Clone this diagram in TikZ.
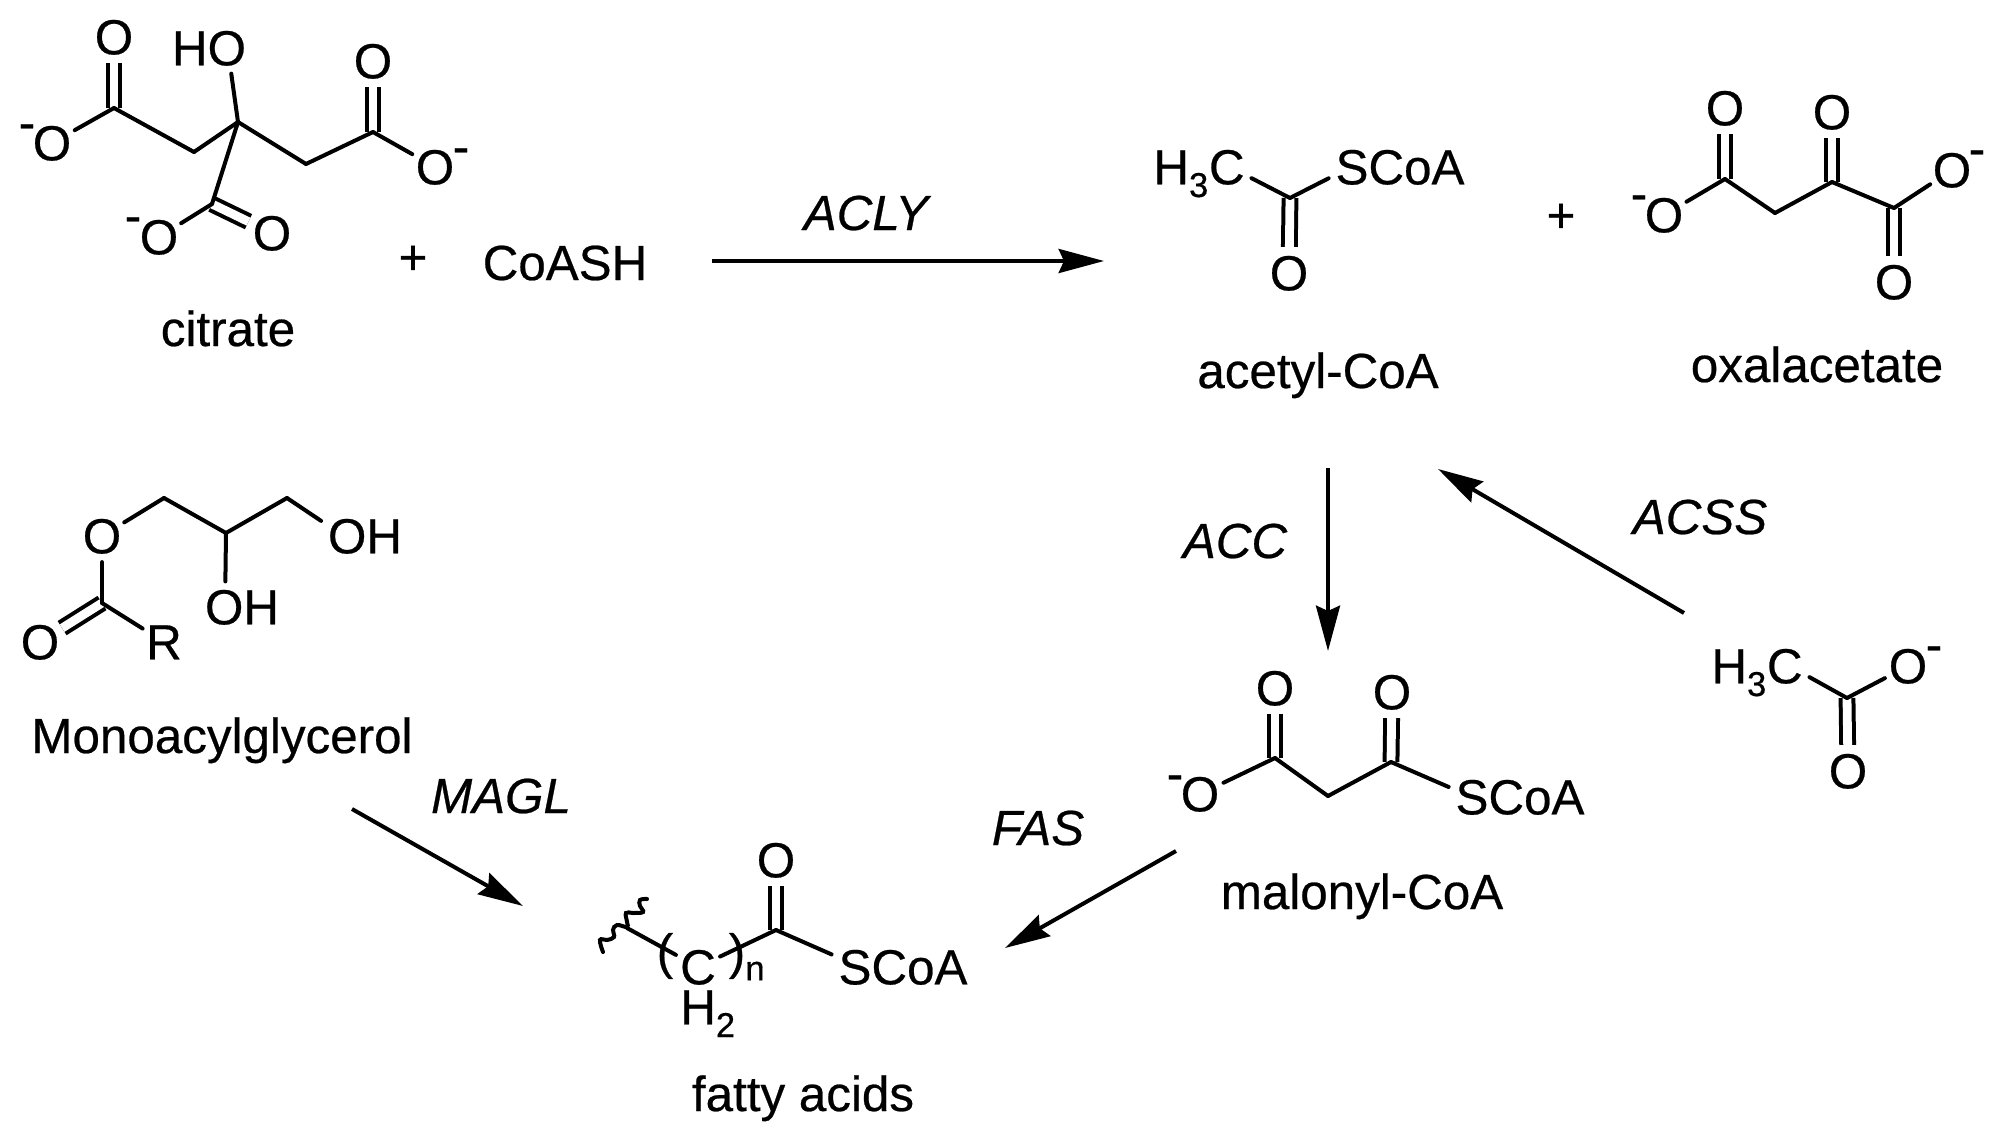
\documentclass[tikz,border=0pt]{standalone}
\usepackage{fontspec}
\setmainfont{Liberation Sans}[FakeBold=0.5]
\usetikzlibrary{arrows.meta}

\tikzset{
  bond/.style={line width=3pt,line cap=round},
  dbond/.style={line width=3pt,double,double distance=6.6pt},
  rxn/.style={line width=3pt,-{Stealth[length=34pt,width=18pt,inset=4pt]}},
  atom/.style={font=\fontsize{37}{40}\selectfont,text height=26pt,text depth=0pt,inner xsep=5pt,inner ysep=6pt},
  oxy/.style={atom,circle,inner sep=0pt,minimum size=37.5pt},
  chg/.style={font=\fontsize{37}{40}\selectfont,inner sep=0pt},
  small/.style={font=\fontsize{26}{30}\selectfont,inner sep=0pt},
  lbl/.style={font=\fontsize{37}{40}\selectfont,anchor=base,inner sep=0pt},
  enz/.style={lbl,font=\fontsize{37}{40}\selectfont\itshape}
}

\begin{document}
\begin{tikzpicture}[x=0.75pt,y=0.75pt,yscale=-1,xscale=1]
\useasboundingbox (0,0) rectangle (1995,1128);

% Vertices
\draw (114,108) coordinate (cita) ;
\draw (194,152) coordinate (citb) ;
\draw (238,122) coordinate (citc) ;
\draw (306,164) coordinate (citd) ;
\draw (373,132) coordinate (cite) ;
\draw (212,204) coordinate (citf) ;
\draw (1290,198) coordinate (aca) ;
\draw (1725,179) coordinate (oxa) ;
\draw (1775,213) coordinate (oxb) ;
\draw (1832,182) coordinate (oxc) ;
\draw (1894,208) coordinate (oxd) ;
\draw (102,603) coordinate (maga) ;
\draw (164,498) coordinate (magb) ;
\draw (226,533) coordinate (magc) ;
\draw (287,498) coordinate (magd) ;
\draw (1275,758) coordinate (mala) ;
\draw (1328,796) coordinate (malb) ;
\draw (1391,762) coordinate (malc) ;
\draw (1847,698) coordinate (acta) ;
\draw (776,930) coordinate (fata) ;
\draw (627,928) coordinate (fatb) ;

% Text Node
\draw (114,37) node (citoa) [oxy] {O};
\draw (52,143) node (citob) [oxy] {O};
\draw (27,132) node (chga) [chg] {-};
\draw (209,48) node (citho) [atom] {HO};
\draw (373,61) node (citoc) [oxy] {O};
\draw (435,167) node (citod) [oxy] {O};
\draw (461,156) node (chgb) [chg] {-};
\draw (159,237) node (citoe) [oxy] {O};
\draw (133,225) node (chgc) [chg] {-};
\draw (272,233) node (citof) [oxy] {O};
\draw (413,260) node (plusa) [chg] {+};
\draw (228,346) node (citname) [lbl] {citrate};
\draw (565,280) node (coash) [lbl] {CoASH};
% Text Node
\draw (1199,167) node (ach) [atom] {H\textsubscript{3}C};
\draw (1400,167) node (acs) [atom] {SCoA};
\draw (1289,273) node (aco) [oxy] {O};
\draw (1318,388) node (acname) [lbl] {acetyl-CoA};
\draw (1561,218) node (plusb) [chg] {+};
% Text Node
\draw (1664,215) node (oxoa) [oxy] {O};
\draw (1639,203) node (chgd) [chg] {-};
\draw (1725,108) node (oxob) [oxy] {O};
\draw (1832,112) node (oxoc) [oxy] {O};
\draw (1952,170) node (oxod) [oxy] {O};
\draw (1977,158) node (chge) [chg] {-};
\draw (1894,282) node (oxoe) [oxy] {O};
\draw (1817,382) node (oxname) [lbl] {oxalacetate};
% Text Node
\draw (102,536) node (magoa) [oxy] {O};
\draw (40,642) node (magob) [oxy] {O};
\draw (164,642) node (magr) [oxy] {R};
\draw (242,607) node (magoh) [atom] {OH};
\draw (365,536) node (magohb) [atom] {OH};
\draw (222,753) node (magname) [lbl] {Monoacylglycerol};
% Text Node
\draw (1200,794) node (maloa) [oxy] {O};
\draw (1175,783) node (chgf) [chg] {-};
\draw (1275,688) node (malob) [oxy] {O};
\draw (1392,692) node (maloc) [oxy] {O};
\draw (1520,797) node (mals) [atom] {SCoA};
\draw (1362,909) node (malname) [lbl] {malonyl-CoA};
% Text Node
\draw (1757,666) node (acth) [atom] {H\textsubscript{3}C};
\draw (1908,666) node (actoa) [oxy] {O};
\draw (1934,654) node (chgg) [chg] {-};
\draw (1848,771) node (actob) [oxy] {O};
% Text Node
\draw (776,860) node (fato) [oxy] {O};
\draw (698,967) node (fatc) [atom,inner xsep=3pt,inner ysep=0pt] {C};
\draw (665,956) node (fatpa) [chg] {(};
\draw (737,956) node (fatpb) [chg] {)};
\draw (755,971) node (fatn) [small] {n};
\draw (680,1007) node (fath) [atom,anchor=west,inner sep=0pt] {H\textsubscript{2}};
\draw (903,967) node (fats) [atom] {SCoA};
\draw (803,1111) node (fatname) [lbl] {fatty acids};
% Text Node
\draw (866,230) node (acly) [enz] {ACLY};
\draw (1235,558) node (acc) [enz] {ACC};
\draw (1700,534) node (acss) [enz] {ACSS};
\draw (501,813) node (magl) [enz] {MAGL};
\draw (1038,845) node (fas) [enz] {FAS};

%Straight Lines
\draw [dbond] (cita) -- (citoa) ;
\draw [dbond] (cite) -- (citoc) ;
\draw [dbond] (citf) -- (citof) ;
\draw [dbond] (aca) -- (aco) ;
\draw [dbond] (oxa) -- (oxob) ;
\draw [dbond] (oxc) -- (oxoc) ;
\draw [dbond] (oxd) -- (oxoe) ;
\draw [dbond] (maga) -- (magob) ;
\draw [dbond] (mala) -- (malob) ;
\draw [dbond] (malc) -- (maloc) ;
\draw [dbond] (acta) -- (actob) ;
\draw [dbond] (fata) -- (fato) ;
%Straight Lines
\draw [bond] (citob) -- (cita) ;
\draw [bond] (cita) -- (citb) ;
\draw [bond] (citb) -- (citc) ;
\draw [bond] (citc) -- (citho.-49) ;
\draw [bond] (citc) -- (citd) ;
\draw [bond] (citd) -- (cite) ;
\draw [bond] (cite) -- (citod) ;
\draw [bond] (citc) -- (citf) ;
\draw [bond] (citf) -- (citoe) ;
%Straight Lines
\draw [bond] (ach.-12) -- (aca) ;
\draw [bond] (aca) -- (acs.189) ;
\draw [bond] (oxoa) -- (oxa) ;
\draw [bond] (oxa) -- (oxb) ;
\draw [bond] (oxb) -- (oxc) ;
\draw [bond] (oxc) -- (oxd) ;
\draw [bond] (oxd) -- (oxod) ;
%Straight Lines
\draw [bond] (magoa) -- (maga) ;
\draw [bond] (maga) -- (magr) ;
\draw [bond] (magoa) -- (magb) ;
\draw [bond] (magb) -- (magc) ;
\draw [bond] (magc) -- (magoh.123) ;
\draw [bond] (magc) -- (magd) ;
\draw [bond] (magd) -- (magohb.161) ;
%Straight Lines
\draw [bond] (maloa) -- (mala) ;
\draw [bond] (mala) -- (malb) ;
\draw [bond] (malb) -- (malc) ;
\draw [bond] (malc) -- (mals.172) ;
\draw [bond] (acth.-12) -- (acta) ;
\draw [bond] (acta) -- (actoa) ;
%Straight Lines
\draw [bond] (fatb) -- (fatc) ;
\draw [bond] (fatc) -- (fata) ;
\draw [bond] (fata) -- (fats.170) ;
\draw [bond] plot [smooth,tension=0.7] coordinates {(647,899) (640,900) (640,906) (643,912) (633,913) (626,913) (627,922) (627,927) (617,925) (613,930) (614,937) (607,940) (600,940) (603,952)} ;

% Arrow ends
\draw (712,261) coordinate (aclys) ;
\draw (1104,261) coordinate (aclye) ;
\draw (1328,468) coordinate (accs) ;
\draw (1328,651) coordinate (acce) ;
\draw (1684,613) coordinate (acsss) ;
\draw (1438,469) coordinate (acsse) ;
\draw (1176,851) coordinate (fass) ;
\draw (1005,948) coordinate (fase) ;
\draw (352,809) coordinate (magls) ;
\draw (523,906) coordinate (magle) ;
%Straight Lines
\draw [rxn] (aclys) -- (aclye) ;
\draw [rxn] (accs) -- (acce) ;
\draw [rxn] (acsss) -- (acsse) ;
\draw [rxn] (fass) -- (fase) ;
\draw [rxn] (magls) -- (magle) ;

\end{tikzpicture}
\end{document}
